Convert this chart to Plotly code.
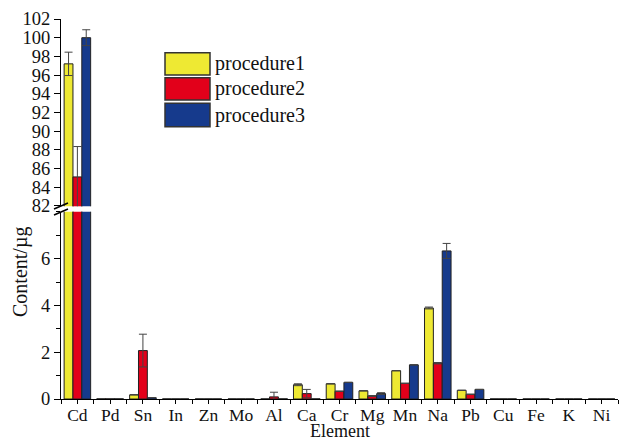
import plotly.graph_objects as go

elements = ["Cd", "Pd", "Sn", "In", "Zn", "Mo", "Al", "Ca", "Cr", "Mg", "Mn", "Na", "Pb", "Cu", "Fe", "K", "Ni"]
names = ["procedure1", "procedure2", "procedure3"]
p1 = [97.2, 0.02, 0.18, 0, 0, 0, 0, 0.61, 0.65, 0.35, 1.21, 3.89, 0.37, 0, 0, 0, 0]
p2 = [85.1, 0.01, 2.07, 0, 0, 0, 0.09, 0.23, 0.33, 0.13, 0.67, 1.53, 0.20, 0, 0, 0, 0]
p3 = [100.0, 0.01, 0.06, 0, 0, 0, 0.02, 0.02, 0.71, 0.23, 1.46, 6.33, 0.41, 0, 0, 0, 0]
e1 = [1.25, 0, 0, 0, 0, 0, 0, 0.04, 0, 0, 0, 0.04, 0, 0, 0, 0, 0]
e2 = [3.25, 0, 0.70, 0, 0, 0, 0.20, 0.18, 0, 0.02, 0, 0.03, 0, 0, 0, 0, 0]
e3 = [0.85, 0, 0, 0, 0, 0, 0, 0, 0, 0.04, 0, 0.32, 0, 0, 0, 0, 0]
colors = ["#EEE933", "#E2001A", "#163A8C"]

series = [p1, p2, p3]
errors = [e1, e2, e3]
xs = list(range(len(elements)))
FONT = "Liberation Serif, Times New Roman, serif"

fig = go.Figure()
for ax in ["y", "y2"]:
    for i in range(3):
        fig.add_trace(go.Bar(
            x=xs, y=series[i], name=names[i], offsetgroup=str(i),
            marker=dict(color=colors[i], line=dict(color="#222222", width=1)),
            error_y=dict(type="data", array=errors[i], visible=True,
                         color="#444444", thickness=1, width=4),
            yaxis=ax, showlegend=False,
        ))

fig.update_layout(
    width=619, height=443,
    margin=dict(l=61, r=1, t=19, b=44),
    paper_bgcolor="white", plot_bgcolor="white",
    barmode="group", bargap=0.19, bargroupgap=0,
    font=dict(family=FONT, size=18, color="#111111"),
    xaxis=dict(
        range=[-0.5, 16.5], tickmode="array", tickvals=xs, ticktext=elements,
        showline=True, linecolor="black", linewidth=1,
        ticks="", ticklen=0, showgrid=False, zeroline=False,
        anchor="y", tickfont=dict(size=17.5),
    ),
    # overlay axis used only to draw the tick marks (centres and boundaries)
    xaxis2=dict(
        overlaying="x", matches="x", anchor="y", side="bottom",
        range=[-0.5, 16.5], tickmode="array", tickvals=xs, showticklabels=False,
        showline=False, ticks="outside", ticklen=4, tickcolor="black",
        showgrid=False, zeroline=False,
        minor=dict(tick0=0.5, dtick=1, ticks="outside", ticklen=4, tickcolor="black"),
    ),
    yaxis=dict(
        domain=[0, 0.4925], range=[0, 8],
        tickmode="array", tickvals=[0, 2, 4, 6],
        showline=True, linecolor="black", linewidth=1,
        ticks="outside", ticklen=6, tickcolor="black", showgrid=False, zeroline=False,
        minor=dict(dtick=1, ticks="outside", ticklen=4, tickcolor="black"),
        tickfont=dict(size=18.5), anchor="x",
    ),
    yaxis2=dict(
        domain=[0.507, 1], range=[81.95, 102],
        tickmode="array", tickvals=list(range(82, 103, 2)),
        showline=True, linecolor="black", linewidth=1,
        ticks="outside", ticklen=6, tickcolor="black", showgrid=False, zeroline=False,
        tickfont=dict(size=18.5), anchor="x",
    ),
)
# invisible trace so that xaxis2 is drawn
fig.add_trace(go.Scatter(x=[0], y=[0], xaxis="x2", yaxis="y", mode="markers",
                         marker=dict(opacity=0), showlegend=False, hoverinfo="skip"))

W = 557.0
H = 380.0
def px(x):
    return (x - 61) / W
def py(y):
    return (399 - y) / H

shapes = []
# axis break marks
for yc in [206.0, 212.0]:
    shapes.append(dict(type="line", xref="paper", yref="paper",
                       x0=px(54), y0=py(yc + 3), x1=px(68), y1=py(yc - 3),
                       line=dict(color="black", width=1.5)))
# custom legend
boxes = [(52.7, 75), (77.7, 100), (103.3, 126.7)]
annotations = []
for i, (t, b) in enumerate(boxes):
    shapes.append(dict(type="rect", xref="paper", yref="paper",
                       x0=px(165), x1=px(210), y0=py(b), y1=py(t),
                       fillcolor=colors[i], line=dict(color="#333333", width=1.5)))
    annotations.append(dict(xref="paper", yref="paper", x=px(213), y=py((t + b) / 2),
                            text=names[i], showarrow=False, xanchor="left", yanchor="middle",
                            font=dict(size=20, family=FONT, color="#111111")))
annotations.append(dict(xref="paper", yref="paper", x=px(20), y=py(272), text="Content/µg",
                        textangle=-90, showarrow=False, xanchor="center", yanchor="middle",
                        font=dict(size=20, family=FONT, color="#111111")))
annotations.append(dict(xref="paper", yref="paper", x=px(340), y=py(442.8), text="Element",
                        showarrow=False, xanchor="center", yanchor="bottom",
                        font=dict(size=18, family=FONT, color="#111111")))
fig.update_layout(shapes=shapes, annotations=annotations)

fig.write_html("out.html")
